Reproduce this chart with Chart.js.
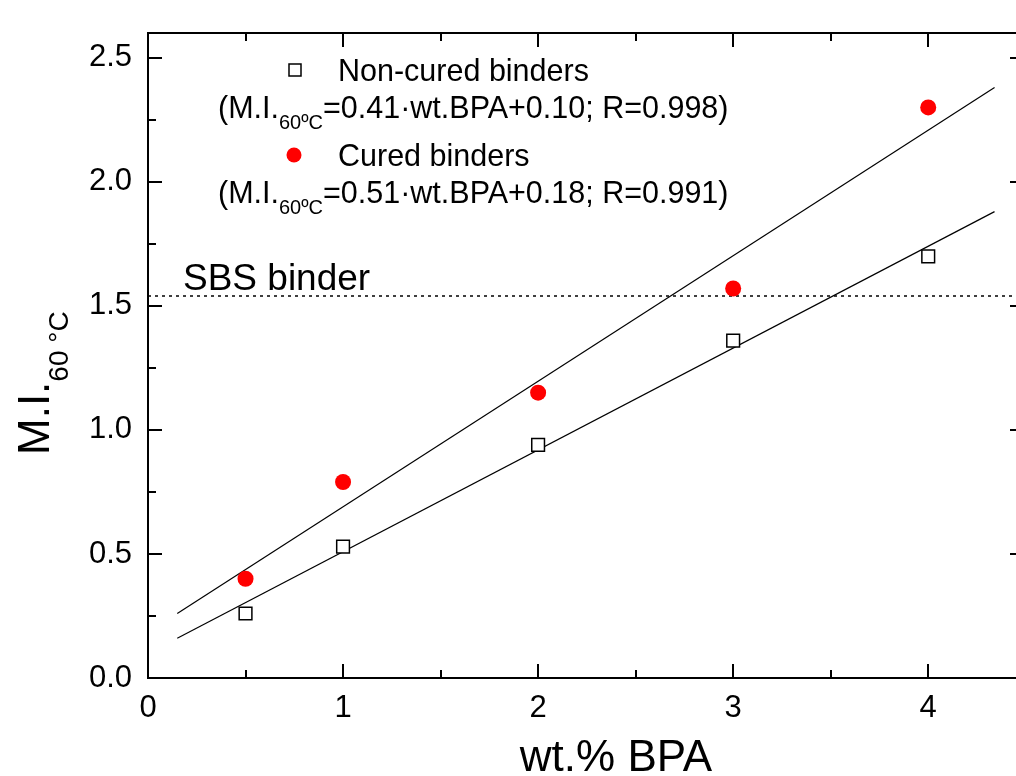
<!DOCTYPE html>
<html>
<head>
<meta charset="utf-8">
<script src="https://cdn.jsdelivr.net/npm/chart.js@4.4.1/dist/chart.umd.min.js"></script>
<style>
  html, body { margin:0; padding:0; background:#fff; overflow:hidden; }
  #wrap { width:1016px; height:776px; position:relative; }
</style>
</head>
<body>
<div id="wrap"><canvas id="miChart"></canvas></div>
<script>
// wt.% BPA and M.I. at 60 C
const bpaContent = [0.5, 1, 2, 3, 4];
const nonCuredMI = [0.26, 0.53, 0.94, 1.36, 1.70];
const curedMI    = [0.40, 0.79, 1.15, 1.57, 2.30];

// fitted line end points (x, y) as drawn in the figure
const nonCuredFitX = [0.15, 4.34];
const nonCuredFitY = [0.16, 1.88];
const curedFitX    = [0.15, 4.34];
const curedFitY    = [0.26, 2.38];

// SBS reference level
const sbsLevelX = [0, 4.45];
const sbsLevelY = [1.54, 1.54];

const xTicks = [0, 1, 2, 3, 4];
const yTicks = [0.0, 0.5, 1.0, 1.5, 2.0, 2.5];

const FONT = '"Liberation Sans", Arial, sans-serif';

const toPts = (xs, ys) => xs.map((x, i) => ({x: x, y: ys[i]}));

// draws frame, inward ticks, titles and the in-plot legend
const decorPlugin = {
    id: 'decor',
    afterDraw(chart){
        const ctx = chart.ctx;
        const a = chart.chartArea;
        const xs = chart.scales.x, ys = chart.scales.y;
        // the right axis of the original figure sits just past the picture edge
        const rightAxis = a.right + 8;
        ctx.save();
        ctx.strokeStyle = '#000';
        ctx.lineWidth = 2;
        ctx.beginPath();
        ctx.moveTo(rightAxis, a.top); ctx.lineTo(a.left, a.top);
        ctx.lineTo(a.left, a.bottom); ctx.lineTo(rightAxis, a.bottom);
        ctx.stroke();

        // x ticks (major + minor), bottom and top
        xTicks.forEach(v => {
            [v, v + 0.5].forEach((t, k) => {
                if (t > xs.max) return;
                const px = Math.round(xs.getPixelForValue(t));
                const len = k === 0 ? 14 : 8;
                ctx.beginPath();
                ctx.moveTo(px, a.bottom); ctx.lineTo(px, a.bottom - len);
                ctx.moveTo(px, a.top); ctx.lineTo(px, a.top + len);
                ctx.stroke();
            });
        });
        // y ticks, left and right
        yTicks.forEach(v => {
            [v, v + 0.25].forEach((t, k) => {
                if (t > ys.max) return;
                const py = Math.round(ys.getPixelForValue(t));
                const len = k === 0 ? 14 : 8;
                ctx.beginPath();
                ctx.moveTo(a.left, py); ctx.lineTo(a.left + len, py);
                ctx.moveTo(rightAxis, py); ctx.lineTo(rightAxis - len, py);
                ctx.stroke();
            });
        });

        ctx.fillStyle = '#000';
        ctx.textBaseline = 'alphabetic';

        // x title
        ctx.font = '44px ' + FONT;
        ctx.textAlign = 'center';
        ctx.fillText('wt.% BPA', 616, 771);

        // y title with subscript, rotated
        ctx.save();
        ctx.translate(49, 455);
        ctx.rotate(-Math.PI / 2);
        ctx.textAlign = 'left';
        ctx.font = '44px ' + FONT;
        ctx.fillText('M.I.', 0, 0);
        const w0 = ctx.measureText('M.I.').width;
        ctx.font = '28px ' + FONT;
        ctx.fillText('60 \u00B0C', w0, 19);
        ctx.restore();

        // SBS label
        ctx.textAlign = 'left';
        ctx.font = '37px ' + FONT;
        ctx.fillText('SBS binder', 183, 290);

        // legend markers
        ctx.lineWidth = 1.5;
        ctx.strokeStyle = '#000';
        ctx.fillStyle = '#fff';
        ctx.fillRect(289, 64, 12, 12);
        ctx.strokeRect(289, 64, 12, 12);
        ctx.fillStyle = '#ff0000';
        ctx.beginPath();
        ctx.arc(294, 155, 7.5, 0, Math.PI * 2);
        ctx.fill();

        ctx.fillStyle = '#000';
        ctx.font = '30.5px ' + FONT;
        ctx.fillText('Non-cured binders', 338, 81);
        ctx.fillText('Cured binders', 338, 166);

        const eqLine = (pre, rest, y) => {
            ctx.font = '30.5px ' + FONT;
            ctx.fillText(pre, 218, y);
            let x = 218 + ctx.measureText(pre).width;
            ctx.font = '20px ' + FONT;
            ctx.fillText('60\u00BAC', x, y + 11);
            x += ctx.measureText('60\u00BAC').width;
            ctx.font = '30.5px ' + FONT;
            ctx.fillText(rest, x, y);
        };
        eqLine('(M.I.', '=0.41\u00B7wt.BPA+0.10; R=0.998)', 118);
        eqLine('(M.I.', '=0.51\u00B7wt.BPA+0.18; R=0.991)', 203);
        ctx.restore();
    }
};

new Chart(document.getElementById('miChart'), {
    type: 'scatter',
    data: {
        datasets: [
            {
                label: 'Non-cured binders',
                data: toPts(bpaContent, nonCuredMI),
                pointStyle: 'rect',
                pointRadius: 9,
                backgroundColor: '#fff',
                borderColor: '#000',
                borderWidth: 1.5,
                order: 0
            },
            {
                label: 'Cured binders',
                data: toPts(bpaContent, curedMI),
                pointStyle: 'circle',
                pointRadius: 8,
                backgroundColor: '#ff0000',
                borderColor: '#ff0000',
                borderWidth: 0,
                order: 0
            },
            {
                label: 'fit non-cured',
                data: toPts(nonCuredFitX, nonCuredFitY),
                showLine: true, pointRadius: 0,
                borderColor: '#000', borderWidth: 1.2,
                order: 1
            },
            {
                label: 'fit cured',
                data: toPts(curedFitX, curedFitY),
                showLine: true, pointRadius: 0,
                borderColor: '#000', borderWidth: 1.2,
                order: 1
            },
            {
                label: 'SBS binder',
                data: toPts(sbsLevelX, sbsLevelY),
                showLine: true, pointRadius: 0,
                borderColor: '#000', borderWidth: 1.5,
                borderDash: [3, 4],
                order: 1
            }
        ]
    },
    options: {
        responsive: true,
        maintainAspectRatio: false,
        animation: false,
        layout: { autoPadding: false, padding: { top: 33, right: 0, left: 0, bottom: 0 } },
        plugins: { legend: { display: false }, tooltip: { enabled: false } },
        scales: {
            x: {
                type: 'linear', min: 0, max: 4.45,
                grid: { display: false, drawTicks: false },
                border: { display: false },
                ticks: {
                    stepSize: 1, includeBounds: false, padding: 12,
                    color: '#000', font: { family: FONT, size: 31 },
                    callback: v => xTicks.includes(v) ? String(v) : ''
                },
                afterFit: s => { s.height = 98; s.paddingLeft = 0; s.paddingRight = 0; }
            },
            y: {
                type: 'linear', min: 0, max: 2.6,
                grid: { display: false, drawTicks: false },
                border: { display: false },
                ticks: {
                    stepSize: 0.5, includeBounds: false, padding: 16,
                    color: '#000', font: { family: FONT, size: 31 },
                    callback: v => v.toFixed(1)
                },
                afterFit: s => { s.width = 148; s.paddingTop = 0; s.paddingBottom = 0; }
            }
        }
    },
    plugins: [decorPlugin]
});
</script>
</body>
</html>
